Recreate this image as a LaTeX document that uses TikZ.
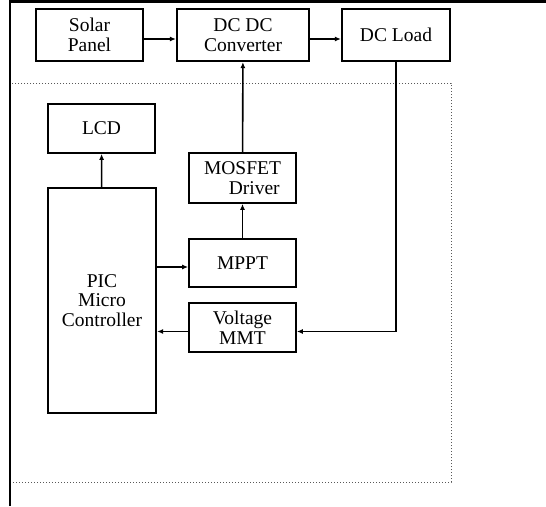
\documentclass[tikz,border=0pt]{standalone}
\usepackage{fontspec}
\setmainfont{Liberation Serif}
\usetikzlibrary{arrows.meta,positioning}

\tikzset{
  block/.style={draw,line width=1.7pt,align=center,inner sep=1pt,
    font=\fontsize{19.5}{19.5}\selectfont},
  topblock/.style={block,line width=2.2pt,minimum height=52pt},
  flow/.style={line width=1.6pt,-{Latex[length=6pt,width=5pt]}}
}

\begin{document}
\begin{tikzpicture}[x=1pt,y=-1pt]
  \useasboundingbox (0,0) rectangle (546,506);

  % controller area
  \draw[gray!70!black,line width=1pt,dotted] (10,83) rectangle (451,482);
  \draw[line width=2.2pt] (10,506) -- (10,1.5) -- (546,1.5);

  \node[topblock,minimum width=107pt] (solar) at (89.5,35) {Solar\\Panel};
  \node[topblock,minimum width=132pt] (dcdc) at (243,35) {DC DC\\Converter};
  \node[topblock,minimum width=108pt] (load) at (396,35) {DC Load};

  \node[block,minimum width=107pt,minimum height=49pt] (lcd) at (101.5,128.5) {LCD};
  \node[block,line width=2.2pt,minimum width=108pt,minimum height=225pt] (pic) at (102,300.5) {PIC\\Micro\\Controller};
  \node[block,minimum width=107pt,minimum height=50pt] (mosfet) at (242.5,178) {MOSFET\\\hspace*{1.2em}Driver};
  \node[block,minimum width=107pt,minimum height=48pt] (mppt) at (242.5,263) {MPPT};
  \node[block,minimum width=107pt,minimum height=49pt] (volt) at (242.5,327.5) {Voltage\\MMT};

  \coordinate (mpptin) at ([yshift=-4pt]mppt.west);
  \coordinate (voltin) at ([yshift=-4pt]volt.east);
  \coordinate (voltout) at ([yshift=-4pt]volt.west);

  \draw[flow] ([yshift=-4pt]solar.east) -- ([yshift=-4pt]dcdc.west);
  \draw[flow] ([yshift=-4pt]dcdc.east) -- ([yshift=-4pt]load.west);
  \draw[flow] (mosfet) -- (dcdc);
  \draw[flow] (mppt) -- (mosfet);
  \draw[flow] (pic) -- (lcd);
  \draw[flow] (mpptin -| pic.east) -- (mpptin);
  \draw[flow] (load.south) |- (voltin);
  \draw[flow] (voltout) -- (voltout -| pic.east);
\end{tikzpicture}
\end{document}
